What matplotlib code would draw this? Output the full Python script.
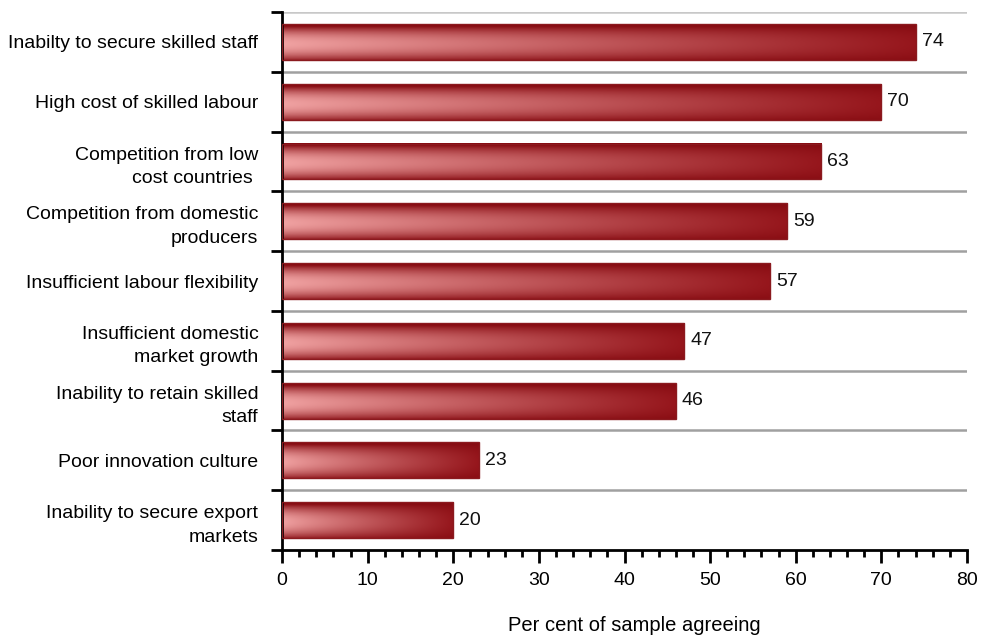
import numpy as np
import matplotlib
matplotlib.use("Agg")
import matplotlib.pyplot as plt

plt.rcParams['font.family'] = ['Liberation Sans', 'DejaVu Sans']

categories = [
    "Inabilty to secure skilled staff",
    "High cost of skilled labour",
    "Competition from low\ncost countries ",
    "Competition from domestic\nproducers",
    "Insufficient labour flexibility",
    "Insufficient domestic\nmarket growth",
    "Inability to retain skilled\nstaff",
    "Poor innovation culture",
    "Inability to secure export\nmarkets",
]
values = [74, 70, 63, 59, 57, 47, 46, 23, 20]
xticks = [0, 10, 20, 30, 40, 50, 60, 70, 80]
xlabel = "Per cent of sample agreeing"

fig = plt.figure(figsize=(9.81, 6.37), dpi=100)
ax = fig.add_axes([0.2875, 0.1366, 0.6982, 0.8444])

n = len(categories)
ypos = np.arange(n)
bar_h = 0.6

light = np.array([240, 162, 162]) / 255
dark = np.array([150, 22, 28]) / 255
edge_dark = np.array([135, 12, 18]) / 255

nx, ny = 300, 60
tx = np.linspace(0, 1, nx)
ty = np.linspace(-1, 1, ny)
hor = light[None, :] * (1 - tx[:, None] ** 0.9) + dark[None, :] * tx[:, None] ** 0.9
s = np.clip(np.abs(ty - 0.1) ** 2.0, 0, 1)
img = hor[None, :, :] * (1 - s[:, None, None]) + edge_dark[None, None, :] * s[:, None, None]

for y, v in zip(ypos, values):
    ax.imshow(img, extent=(0, v, y + bar_h / 2, y - bar_h / 2), aspect='auto',
              interpolation='bilinear', zorder=2)
ax.barh(ypos, values, height=bar_h, color='none', edgecolor='#8b1a1f',
        linewidth=1.0, zorder=3)
for y, v in zip(ypos, values):
    ax.text(v + 0.7, y, str(v), va='center', ha='left', fontsize=14, color='#111111')

# gridlines at band boundaries
for b in np.arange(-0.5, n - 1, 1.0):
    ax.axhline(b, color='#a0a0a0' if b > -0.4 else '#c8c8c8', linewidth=1.8, zorder=1)

ax.set_xlim(0, 80)
ax.set_ylim(n - 0.5, -0.5)
ax.set_xticks(xticks)
ax.set_xticklabels([str(t) for t in xticks], fontsize=14)
ax.set_xticks(np.arange(0, 81, 2), minor=True)
ax.tick_params(axis='x', which='major', direction='out', length=9, width=2, pad=7)
ax.tick_params(axis='x', which='minor', direction='out', length=5, width=2)

ax.set_yticks(np.arange(-0.5, n, 1.0))
ax.set_yticklabels([])
ax.tick_params(axis='y', which='major', direction='out', length=8, width=2)
ax.set_yticks(ypos, minor=True)
ax.set_yticklabels(categories, minor=True, fontsize=14, ha='right', linespacing=1.5)
ax.tick_params(axis='y', which='minor', length=0, pad=17)

for sp in ['top', 'right']:
    ax.spines[sp].set_visible(False)
for sp in ['left', 'bottom']:
    ax.spines[sp].set_linewidth(2)
    ax.spines[sp].set_color('black')

ax.set_xlabel(xlabel, fontsize=14.5, va='center')
ax.xaxis.set_label_coords(0.515, -0.14)

fig.savefig("out.png", dpi=100)
